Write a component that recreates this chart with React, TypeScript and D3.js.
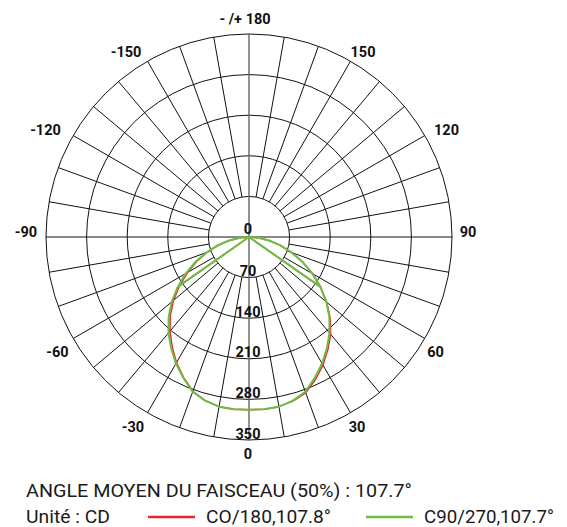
import React from 'react';
import * as d3 from 'd3';

// polar candela diagram, two C-planes
const WIDTH = 567;
const HEIGHT = 527;
const CX = 249;
const CY = 237;
const OUTER = 203;

const RING_VALUES = [70, 140, 210, 280, 350];
const RING_LABELS = ['0', '70', '140', '210', '280', '350'];
const SPOKE_STEP = 10;

const ANGLE_TICKS = [0, 30, 60, 90, 120, 150, 180, -150, -120, -90, -60, -30];
const ANGLE_TICK_LABELS = ['0', '30', '60', '90', '120', '150', '- /+ 180', '-150', '-120', '-90', '-60', '-30'];
// hand nudges so the labels sit where the original puts them
const ANGLE_LABEL_NUDGE: Array<[number, number]> = [
  [-1, -3], [-2, -1], [-4, 5], [-1, -5], [7, 3], [4, 5], [-4, 2], [-13, 5], [-13, 3], [-3, -5], [-1, 5], [-6, -1],
];

const GAMMA = [
  -90, -85, -80, -75, -70, -65, -60, -55, -50, -45, -40, -35, -30, -25, -20, -15, -10, -5,
  0, 5, 10, 15, 20, 25, 30, 35, 40, 45, 50, 55, 60, 65, 70, 75, 80, 85, 90,
];
const C0_180 = [
  0, 15, 34, 55, 77, 99, 122, 146, 170, 192, 212, 231, 250, 267, 283, 292, 297, 298,
  298, 298, 297, 293, 286, 271, 255, 237, 219, 198, 175, 151, 127, 102, 78, 56, 35, 16, 0,
];
const C90_270 = [
  0, 16, 35, 56, 78, 102, 126, 150, 174, 196, 216, 234, 252, 268, 284, 292, 297, 298,
  298, 298, 297, 292, 284, 268, 252, 234, 216, 196, 174, 150, 126, 102, 78, 56, 35, 16, 0,
];
// the exported curve starts and ends on the 55° samples, hence the two chords to the centre
const CHORD_GAMMA = 55;

const TITLE = 'ANGLE MOYEN DU FAISCEAU (50%) : 107.7°';
const UNIT = 'Unité : CD';
const SERIES_NAMES = ['CO/180,107.8°', 'C90/270,107.7°'];
const SERIES_COLORS = ['#e8282e', '#6dbd45'];

const r = d3.scaleLinear().domain([0, 350]).range([0, OUTER]);
const rad = (g: number) => Math.PI - (g * Math.PI) / 180;
const px = (g: number, rr: number) => rr * Math.sin(rad(g));
const py = (g: number, rr: number) => -rr * Math.cos(rad(g));

const curvePoints = (values: number[]): Array<[number, number]> => {
  const pts: Array<[number, number]> = GAMMA.map((g, i) => [g, values[i]]);
  const a = GAMMA.indexOf(-CHORD_GAMMA);
  const b = GAMMA.indexOf(CHORD_GAMMA);
  return [pts[a], ...pts, pts[b]];
};

const line = d3
  .lineRadial<[number, number]>()
  .angle((d) => rad(d[0]))
  .radius((d) => r(d[1]));

export default function App() {
  const spokes = d3.range(0, 360, SPOKE_STEP).filter((a) => a % 90 !== 0);
  const labelFont = 'Roboto, "Open Sans", sans-serif';

  return (
    <svg
      width={WIDTH}
      height={HEIGHT}
      style={{ position: 'absolute', top: 0, left: 0, background: '#fff' }}
    >
      <g transform={`translate(${CX},${CY})`}>
        {RING_VALUES.map((v) => (
          <circle key={v} r={r(v)} fill="none" stroke="#111" strokeWidth={1} />
        ))}
        {spokes.map((a) => (
          <line
            key={a}
            x1={px(a, r(RING_VALUES[0]))}
            y1={py(a, r(RING_VALUES[0]))}
            x2={px(a, OUTER)}
            y2={py(a, OUTER)}
            stroke="#111"
            strokeWidth={1}
          />
        ))}
        <line x1={-OUTER} x2={OUTER} y1={0} y2={0} stroke="#111" strokeWidth={1} />
        <line x1={0} x2={0} y1={-OUTER} y2={OUTER} stroke="#666" strokeWidth={1.4} />

        {[C0_180, C90_270].map((vals, i) => (
          <path
            key={i}
            d={line(curvePoints(vals)) || ''}
            fill="none"
            stroke={SERIES_COLORS[i]}
            strokeWidth={i === 0 ? 1.5 : 2}
            strokeLinejoin="round"
          />
        ))}

        {RING_LABELS.map((t, i) => (
          <text
            key={t}
            x={-1}
            y={r(i * 70) - (i === 0 ? 3 : 1.5)}
            textAnchor="middle"
            fontFamily={labelFont}
            fontWeight="bold"
            fontSize={14.5}
            fill="#111"
          >
            {t}
          </text>
        ))}

        {ANGLE_TICKS.map((g, i) => (
          <text
            key={g}
            x={px(g, 220) + ANGLE_LABEL_NUDGE[i][0]}
            y={py(g, 220) + ANGLE_LABEL_NUDGE[i][1]}
            dy="0.35em"
            textAnchor="middle"
            fontFamily={labelFont}
            fontWeight="bold"
            fontSize={14.5}
            fill="#111"
          >
            {ANGLE_TICK_LABELS[i]}
          </text>
        ))}
      </g>

      <g fontFamily={labelFont} fontSize={19} fill="#1a1a1a" fontWeight={400}>
        <text x={26} y={497} textLength={386} lengthAdjust="spacingAndGlyphs">{TITLE}</text>
        <text x={26} y={523} textLength={84} lengthAdjust="spacingAndGlyphs">{UNIT}</text>
        {SERIES_NAMES.map((name, i) => (
          <g key={name} transform={`translate(${148 + i * 218},0)`}>
            <line x1={0} x2={47} y1={517} y2={517} stroke={SERIES_COLORS[i]} strokeWidth={2.5} />
            <text x={58} y={523} textLength={i === 0 ? 125 : 130} lengthAdjust="spacingAndGlyphs">
              {name}
            </text>
          </g>
        ))}
      </g>
    </svg>
  );
}
